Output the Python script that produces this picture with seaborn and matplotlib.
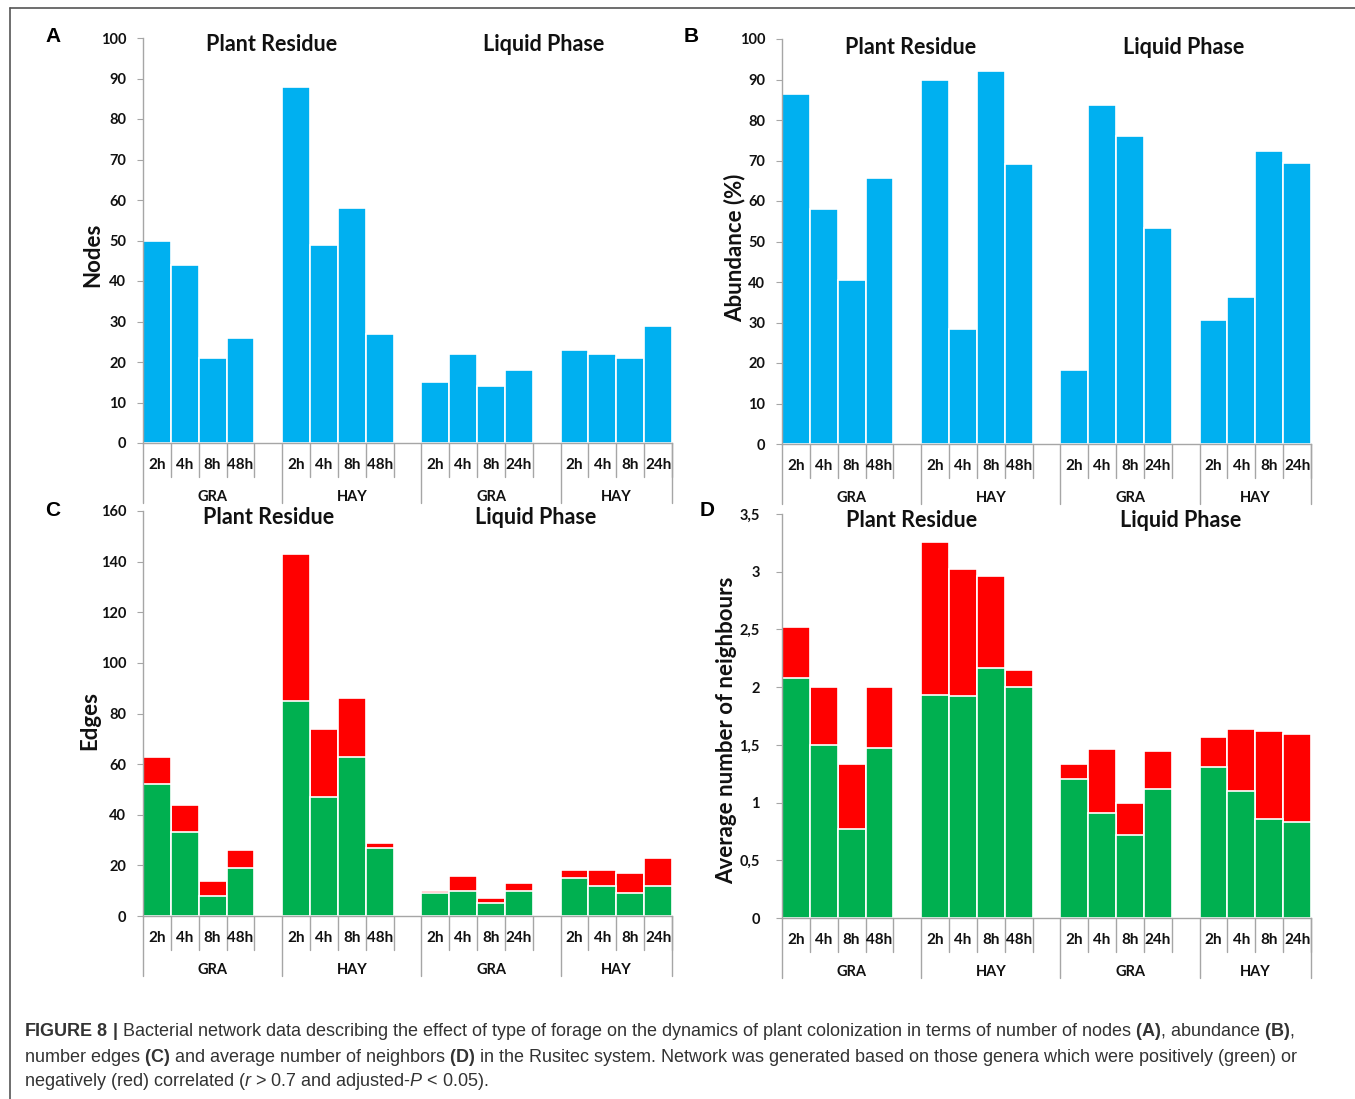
import matplotlib
matplotlib.use('Agg')
import pandas as pd
import matplotlib.pyplot as plt
import seaborn as sns
from matplotlib.lines import Line2D
from matplotlib.ticker import FuncFormatter
from matplotlib import font_manager

# categories
phases = ['Plant Residue', 'Liquid Phase']
forages = ['GRA', 'HAY']
times = {'Plant Residue': ['2h', '4h', '8h', '48h'],
         'Liquid Phase': ['2h', '4h', '8h', '24h']}

# values, order: PR-GRA, PR-HAY, LP-GRA, LP-HAY (4 times each)
nodes = [50, 44, 21, 26, 88, 49, 58, 27, 15, 22, 14, 18, 23, 22, 21, 29]
abundance = [86.5, 58.1, 40.6, 65.8, 89.8, 28.5, 92.2, 69.1,
             18.3, 83.8, 76.1, 53.3, 30.6, 36.2, 72.4, 69.3]
edges_pos = [52, 33, 8, 19, 85, 47, 63, 27, 9, 10, 5, 10, 15, 12, 9, 12]
edges_neg = [11, 11, 6, 7, 58, 27, 23, 2, 1, 6, 2, 3, 3, 6, 8, 11]
neigh_pos = [2.08, 1.50, 0.77, 1.47, 1.93, 1.92, 2.17, 2.00,
             1.20, 0.91, 0.72, 1.12, 1.31, 1.10, 0.86, 0.83]
neigh_neg = [0.44, 0.50, 0.56, 0.53, 1.33, 1.10, 0.79, 0.15,
             0.13, 0.55, 0.28, 0.33, 0.26, 0.54, 0.76, 0.76]

BLUE, GREEN, RED = '#00B0F0', '#00B050', '#FF0000'
GRID = '#a6a6a6'
INK = '#111111'

sns.set_style('white')
plt.rcParams['font.family'] = ['Lato', 'DejaVu Sans']

names = {f.name for f in font_manager.fontManager.ttflist}
cap_font = 'Liberation Sans Narrow' if 'Liberation Sans Narrow' in names else 'Liberation Sans'
plt.rcParams['mathtext.fontset'] = 'custom'
plt.rcParams['mathtext.rm'] = cap_font
plt.rcParams['mathtext.bf'] = cap_font + ':bold'
plt.rcParams['mathtext.it'] = cap_font + ':italic'

# build keys with empty slots between the groups
keys, order, tick_txt = [], [], []
for p in phases:
    for f in forages:
        for t in times[p]:
            k = p + '|' + f + '|' + t
            keys.append(k)
            order.append(k)
            tick_txt.append(t)
        order.append('gap' + str(len(order)))
order = order[:-1]

fig = plt.figure(figsize=(13.55, 10.99), dpi=100)
W, H = 1355, 1099


def make_ax(left, top, bottom):
    return fig.add_axes([left / W, 1 - bottom / H, 529 / W, (bottom - top) / H])


def style(ax, ymax, step, fmt=None):
    ax.set_ylim(0, ymax)
    ax.set_yticks([i * step for i in range(int(round(ymax / step)) + 1)])
    if fmt:
        ax.yaxis.set_major_formatter(FuncFormatter(fmt))
    ax.set_xlim(-0.5, len(order) - 0.5)
    ax.set_xticks([])
    ax.set_xlabel('')
    ax.set_ylabel('')
    for s in ['top', 'right']:
        ax.spines[s].set_visible(False)
    for s in ['left', 'bottom']:
        ax.spines[s].set_color(GRID)
        ax.spines[s].set_linewidth(1)
    ax.tick_params(axis='y', left=True, length=4, color=GRID, pad=8,
                   labelsize=10.5, labelcolor=INK)
    for lab in ax.get_yticklabels():
        lab.set_fontweight('bold')
    hpx = ax.get_position().height * H
    tr = ax.get_xaxis_transform()
    pos = {k: order.index(k) for k in keys}
    for k, t in zip(keys, tick_txt):
        x = pos[k]
        ax.text(x, -22 / hpx, t, transform=tr, ha='center', va='center',
                fontsize=11, fontweight='bold', color=INK)
        ax.add_line(Line2D([x + 0.5, x + 0.5], [0, -34 / hpx], transform=tr,
                           color=GRID, lw=1, clip_on=False))
    starts = [-0.5, 4.5, 9.5, 14.5, len(order) - 0.5]
    for x in starts:
        ax.add_line(Line2D([x, x], [0, -60 / hpx], transform=tr,
                           color=GRID, lw=1, clip_on=False))
    for i, f in enumerate(forages * 2):
        c = (starts[i] + starts[i + 1]) / 2
        ax.text(c, -54 / hpx, f, transform=tr, ha='center', va='center',
                fontsize=10.5, fontweight='bold', color=INK)


def titles(ax, x1, x2, yf):
    tr = ax.get_xaxis_transform()
    ax.text(x1, yf, phases[0], transform=tr, ha='center', va='center',
            fontsize=15.5, fontweight='bold', color=INK)
    ax.text(x2, yf, phases[1], transform=tr, ha='center', va='center',
            fontsize=15.5, fontweight='bold', color=INK)


bar_kw = dict(order=order, width=1, edgecolor='white', linewidth=1.2, saturation=1)

# A - nodes
axA = make_ax(143, 38, 443)
sns.barplot(x=keys, y=nodes, color=BLUE, ax=axA, **bar_kw)
style(axA, 100, 10)
titles(axA, 4.1, 13.9, 0.983)

# B - abundance
axB = make_ax(782, 39, 444)
sns.barplot(x=keys, y=abundance, color=BLUE, ax=axB, **bar_kw)
style(axB, 100, 10)
titles(axB, 4.13, 13.94, 0.98)

# C - edges (stacked)
axC = make_ax(143, 511, 916)
edges_tot = [a + b for a, b in zip(edges_pos, edges_neg)]
sns.barplot(x=keys, y=edges_tot, color=RED, ax=axC, **bar_kw)
sns.barplot(x=keys, y=edges_pos, color=GREEN, ax=axC, **bar_kw)
style(axC, 160, 20)
titles(axC, 4.0, 13.6, 0.983)

# D - neighbours (stacked)
axD = make_ax(782, 514, 918)
neigh_tot = [a + b for a, b in zip(neigh_pos, neigh_neg)]
sns.barplot(x=keys, y=neigh_tot, color=RED, ax=axD, **bar_kw)
sns.barplot(x=keys, y=neigh_pos, color=GREEN, ax=axD, **bar_kw)
style(axD, 3.5, 0.5, fmt=lambda v, _: ('%g' % v).replace('.', ','))
axD.tick_params(axis='y', pad=12)
titles(axD, 4.17, 13.8, 0.985)

# axis labels and panel letters
lab_kw = dict(rotation=90, ha='center', va='center', fontsize=16,
              fontweight='bold', color=INK)
fig.text(93 / W, 1 - 255 / H, 'Nodes', **lab_kw)
fig.text(735 / W, 1 - 248 / H, 'Abundance (%)', **lab_kw)
fig.text(90 / W, 1 - 720 / H, 'Edges', **lab_kw)
fig.text(727 / W, 1 - 730 / H, 'Average number of neighbours', **lab_kw)

let_kw = dict(ha='center', va='center', fontsize=15, fontweight='bold',
              family='Liberation Sans', color='black')
for lt, x, y in [('A', 53, 37), ('B', 691, 36), ('C', 53, 510), ('D', 707, 510)]:
    fig.text(x / W, 1 - y / H, lt, **let_kw)

# figure frame (top and left edges)
fig.add_artist(Line2D([10 / W, 1], [1 - 8 / H, 1 - 8 / H], color='#555555', lw=1.2))
fig.add_artist(Line2D([10 / W, 10 / W], [0, 1 - 8 / H], color='#555555', lw=1.2))

# caption
cap = [r"$\mathbf{FIGURE\ 8\ |}$ Bacterial network data describing the effect of type of forage on the dynamics of plant colonization in terms of number of nodes $\mathbf{(A)}$, abundance $\mathbf{(B)}$,",
       r"number edges $\mathbf{(C)}$ and average number of neighbors $\mathbf{(D)}$ in the Rusitec system. Network was generated based on those genera which were positively (green) or",
       r"negatively (red) correlated ($\mathit{r}$ > 0.7 and adjusted-$\mathit{P}$ < 0.05)."]
cap_size = 13.2 if cap_font == 'Liberation Sans Narrow' else 13
for line, y in zip(cap, [1031, 1057, 1082]):
    fig.text(24 / W, 1 - y / H, line, ha='left', va='center', fontsize=cap_size,
             family=cap_font, color='#333333')

fig.savefig('out.png', dpi=100)
